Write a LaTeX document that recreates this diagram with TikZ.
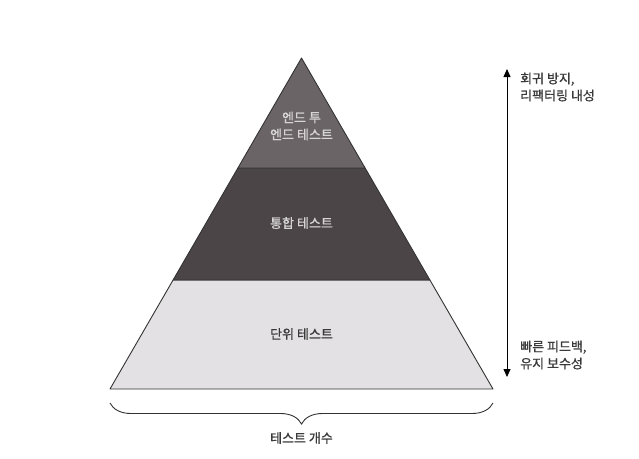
\documentclass[tikz,border=0pt]{standalone}
\usepackage{fontspec}
\setmainfont{Noto Sans CJK KR}[FakeBold=0.8]
\usetikzlibrary{arrows.meta,decorations.pathreplacing}
\definecolor{topc}{HTML}{6B6466}
\definecolor{midc}{HTML}{4B4547}
\definecolor{botc}{HTML}{E3E1E3}
\definecolor{edgec}{HTML}{333333}
\definecolor{lighttxt}{HTML}{D6D4D6}
\definecolor{darktxt}{HTML}{3A3A3A}
\begin{document}
\begin{tikzpicture}[x=1pt,y=-1pt,
  layer/.style={draw=edgec,line width=0.9pt,line join=round},
  lbl/.style={font=\fontsize{13}{17}\selectfont,align=center,inner sep=0pt},
  side/.style={font=\fontsize{13}{17}\selectfont,align=left,inner sep=0pt,anchor=west,text=darktxt},
  axis/.style={draw=black,line width=0.8pt,{Triangle[length=8pt,width=7pt]}-{Triangle[length=8pt,width=7pt]}},
  bracec/.style={draw=edgec,line width=0.9pt,decorate,decoration={brace,amplitude=21pt,mirror}}]
\useasboundingbox (0,0) rectangle (639,458);
\fill[white] (0,0) rectangle (639,458);
\coordinate (A) at (301.5,58);
\coordinate (L1l) at (237.9,168);
\coordinate (L1r) at (365.1,168);
\coordinate (L2l) at (173.1,280);
\coordinate (L2r) at (429.9,280);
\coordinate (BL) at (110,389);
\coordinate (BR) at (493,389);
\filldraw[layer,fill=botc] (L2l) -- (L2r) -- (BR) -- (BL) -- cycle;
\filldraw[layer,fill=midc] (L1l) -- (L1r) -- (L2r) -- (L2l) -- cycle;
\filldraw[layer,fill=topc] (A) -- (L1r) -- (L1l) -- cycle;
\node[lbl,text=lighttxt] (e2e) at (301.5,126) {엔드 투\\엔드 테스트};
\node[lbl,text=lighttxt] (integ) at (301.5,223) {통합 테스트};
\node[lbl,text=darktxt] (unit) at (301.5,334) {단위 테스트};
\coordinate (ATop) at (507,69);
\coordinate (ABot) at (507,377);
\draw[axis] (ATop) -- (ABot);
\node[side] (top) at (520,87) {회귀 방지,\\리팩터링 내성};
\node[side] (bot) at (520,355) {빠른 피드백,\\유지 보수성};
\coordinate (BrL) at (110,403);
\coordinate (BrR) at (493,403);
\draw[bracec] (BrL) -- (BrR);
\node[lbl,text=darktxt] (count) at (301.5,438) {테스트 개수};
\end{tikzpicture}
\end{document}
